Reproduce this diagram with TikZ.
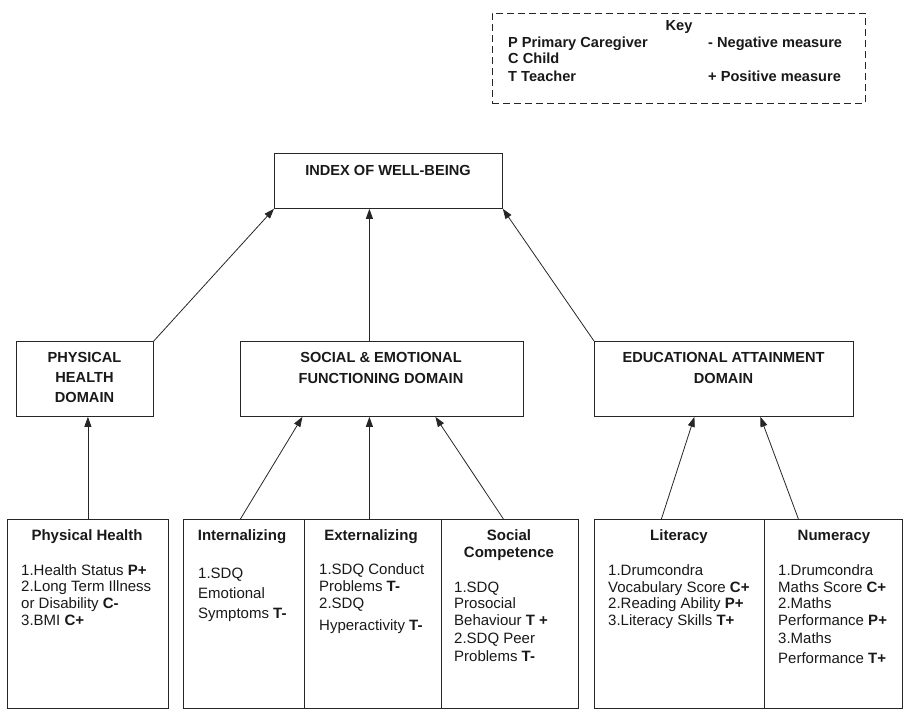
\documentclass[tikz,border=0pt]{standalone}
\usepackage{fontspec}
\setmainfont{Liberation Sans}
\usetikzlibrary{arrows.meta,calc}
\begin{document}
\begin{tikzpicture}[x=1pt,y=-1pt,
  box/.style={draw=black!85, line width=0.8pt, inner sep=0, anchor=north west},
  keybox/.style={draw=black!85, line width=0.8pt, inner sep=0, anchor=north west, dash pattern=on 7pt off 4pt},
  arr/.style={draw=black!85, line width=0.8pt, -{Triangle[length=10pt,width=7pt]}},
  hdr/.style={anchor=base, inner sep=0, text=black!90, font=\fontsize{14.6}{17}\selectfont\bfseries},
  keyt/.style={anchor=base west, inner sep=0, text=black!90, font=\fontsize{14.6}{17}\selectfont\bfseries},
  ttl/.style={anchor=base, inner sep=0, text=black!90, font=\fontsize{15}{17}\selectfont\bfseries},
  item/.style={anchor=base west, inner sep=0, text=black!90, font=\fontsize{15}{17}\selectfont}]
\useasboundingbox (0,0) rectangle (904,710);

% key
\node[keybox, minimum width=373pt, minimum height=90pt] (key) at (492,13) {};
\node[hdr] (keyh) at (679,30) {Key};
\node[keyt] (k1) at (508,47) {P Primary Caregiver};
\node[keyt] (k2) at (508,63.5) {C Child};
\node[keyt] (k3) at (508,81) {T Teacher};
\node[keyt] (k4) at (708,47) {- Negative measure};
\node[keyt] (k5) at (708,81) {+ Positive measure};

% index
\node[box, minimum width=228pt, minimum height=55pt] (idx) at (274,153) {};
\node[hdr] (idxt) at (388,175) {INDEX OF WELL-BEING};

% domains
\node[box, minimum width=137pt, minimum height=75pt] (phd) at (16,341) {};
\node[hdr] (phd1) at (84.5,362) {PHYSICAL};
\node[hdr] (phd2) at (84.5,382) {HEALTH};
\node[hdr] (phd3) at (84.5,402) {DOMAIN};

\node[box, minimum width=283pt, minimum height=75pt] (sed) at (240,341) {};
\node[hdr] (sed1) at (381,362) {SOCIAL \& EMOTIONAL};
\node[hdr] (sed2) at (381,383) {FUNCTIONING DOMAIN};

\node[box, minimum width=259pt, minimum height=75pt] (edu) at (594,341) {};
\node[hdr] (edu1) at (723.5,362) {EDUCATIONAL ATTAINMENT};
\node[hdr] (edu2) at (723.5,383) {DOMAIN};

% bottom boxes
\node[box, minimum width=161pt, minimum height=189pt] (phb) at (7,519) {};
\node[box, minimum width=121pt, minimum height=189pt] (int) at (183,519) {};
\node[box, minimum width=137pt, minimum height=189pt] (ext) at (304,519) {};
\node[box, minimum width=137pt, minimum height=189pt] (soc) at (441,519) {};
\node[box, minimum width=170pt, minimum height=189pt] (lit) at (594,519) {};
\node[box, minimum width=138pt, minimum height=189pt] (num) at (764,519) {};

% titles
\node[ttl] (phbt) at (87,540) {Physical Health};
\node[ttl] (intt) at (242,540) {Internalizing};
\node[ttl] (extt) at (371,540) {Externalizing};
\node[ttl] (soct1) at (509,540) {Social};
\node[ttl] (soct2) at (509,557) {Competence};
\node[ttl] (litt) at (679,540) {Literacy};
\node[ttl] (numt) at (834,540) {Numeracy};

% items
\foreach \yy/\t [count=\i] in {575/{1.Health Status \textbf{P+}}, 591.5/{2.Long Term Illness}, 608.5/{or Disability \textbf{C-}}, 625.5/{3.BMI \textbf{C+}}}
  \node[item] (ph\i) at (21,\yy) {\t};
\foreach \yy/\t [count=\i] in {578/{1.SDQ}, 598/{Emotional}, 618/{Symptoms \textbf{T-}}}
  \node[item] (in\i) at (198,\yy) {\t};
\foreach \yy/\t [count=\i] in {574/{1.SDQ Conduct}, 591/{Problems \textbf{T-}}, 608/{2.SDQ}, 630/{Hyperactivity \textbf{T-}}}
  \node[item] (ex\i) at (319,\yy) {\t};
\foreach \yy/\t [count=\i] in {592/{1.SDQ}, 608/{Prosocial}, 625/{Behaviour \textbf{T +}}, 643/{2.SDQ Peer}, 661/{Problems \textbf{T-}}}
  \node[item] (sc\i) at (454,\yy) {\t};
\foreach \yy/\t [count=\i] in {575/{1.Drumcondra}, 592/{Vocabulary Score \textbf{C+}}, 608/{2.Reading Ability \textbf{P+}}, 625/{3.Literacy Skills \textbf{T+}}}
  \node[item] (li\i) at (608,\yy) {\t};
\foreach \yy/\t [count=\i] in {575/{1.Drumcondra}, 592/{Maths Score \textbf{C+}}, 608/{2.Maths}, 625/{Performance \textbf{P+}}, 643/{3.Maths}, 663/{Performance \textbf{T+}}}
  \node[item] (nu\i) at (778,\yy) {\t};

% connectors to index
\coordinate (sedtop) at ([xshift=-12.5pt]sed.north);
\draw[arr] (phd.north east) -- (idx.south west);
\draw[arr] (sedtop) -- (sedtop |- idx.south);
\draw[arr] (edu.north west) -- (idx.south east);

% connectors to domains
\draw[arr] (phb.north) -- (phb.north |- phd.south);
\coordinate (intf) at ([xshift=-3.5pt]int.north);
\coordinate (extf) at ([xshift=-3.5pt]ext.north);
\coordinate (socf) at ([xshift=-6.5pt]soc.north);
\coordinate (litf) at ([xshift=-18pt]lit.north);
\coordinate (numf) at ([xshift=-35pt]num.north);
\draw[arr] (intf) -- ([xshift=-79.5pt]sed.south);
\draw[arr] (extf) -- (extf |- sed.south);
\draw[arr] (socf) -- ([xshift=53.5pt]sed.south);
\draw[arr] (litf) -- ([xshift=-29.5pt]edu.south);
\draw[arr] (numf) -- ([xshift=36.5pt]edu.south);
\end{tikzpicture}
\end{document}
